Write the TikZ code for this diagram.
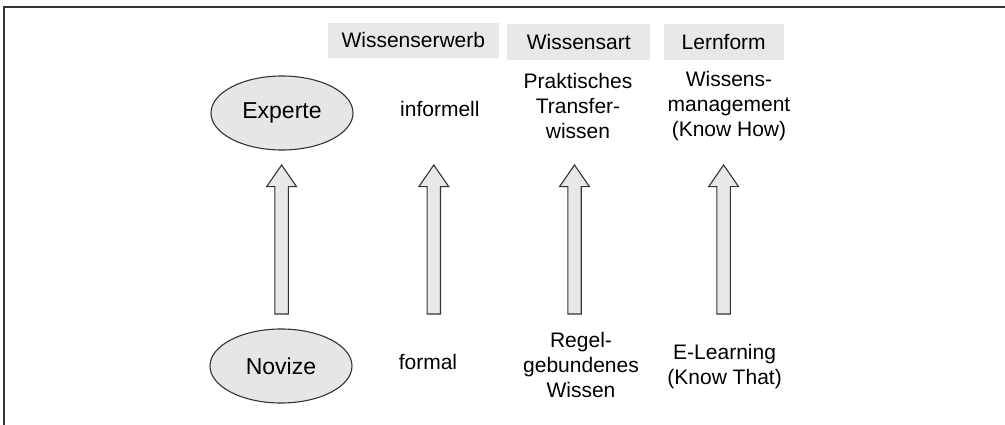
\documentclass[tikz,border=0pt]{standalone}
\usepackage{fontspec}
\setmainfont{Liberation Sans}
\usetikzlibrary{shapes.geometric}
\definecolor{lightfill}{HTML}{E6E6E6}
\definecolor{boxfill}{HTML}{E8E8E8}
\definecolor{edge}{HTML}{333333}
\tikzset{
  txt/.style={inner sep=0pt, align=center, font=\fontsize{21}{25}\selectfont},
  role/.style={ellipse, draw=edge, line width=1.1pt, fill=lightfill, inner sep=0pt,
    minimum width=142pt, minimum height=74pt, font=\fontsize{23}{27}\selectfont},
  headbox/.style={fill=boxfill, inner sep=0pt, font=\fontsize{21}{25}\selectfont},
  blockarrow/.style={draw=edge, line width=1.1pt, fill=boxfill, line join=miter},
  frameline/.style={draw=edge, line width=2pt}
}
% block arrow pointing up: centre x, tip y, bottom y
\newcommand{\uparrowat}[3]{%
  \path[blockarrow] (#1-6.7,#3) -- (#1-6.7,#2+21.7) -- (#1-15,#2+21.7) -- (#1,#2)
    -- (#1+15,#2+21.7) -- (#1+6.7,#2+21.7) -- (#1+6.7,#3) -- cycle;}
\begin{document}
\begin{tikzpicture}[x=1pt,y=-1pt]
\useasboundingbox (0,0) rectangle (1005,425);
% frame (top and left edges)
\draw[frameline] (4,430) -- (4,7.5) -- (1010,7.5);

% column headers
\node[headbox, minimum width=171pt, minimum height=35.5pt] (hErwerb) at (413.3,40.3) {Wissenserwerb};
\node[headbox, minimum width=143pt, minimum height=35.5pt] (hArt) at (578.7,42) {Wissensart};
\node[headbox, minimum width=120pt, minimum height=36pt] (hForm) at (723.7,42) {Lernform};

% levels
\node[role] (experte) at (282,113) {Experte};
\node[role] (novize) at (281,366) {Novize};

% upper row
\node[txt, anchor=west] (informell) at (400,109) {informell};
\node[txt] (transfer) at (578,105.6) {Praktisches\\Transfer-\\wissen};
\node[txt] (knowhow) at (729,105.6) {Wissens-\\management\\(Know How)};

% lower row
\node[txt, anchor=west] (formal) at (398.6,361.5) {formal};
\node[txt] (regel) at (581,365.4) {Regel-\\gebundenes\\Wissen};
\node[txt] (knowthat) at (724.6,367) {E-Learning\\(Know That)};

% development arrows
\uparrowat{281.6}{165}{314}
\uparrowat{433.8}{165}{314}
\uparrowat{574.5}{165}{314}
\uparrowat{723.6}{165}{314}
\end{tikzpicture}
\end{document}
